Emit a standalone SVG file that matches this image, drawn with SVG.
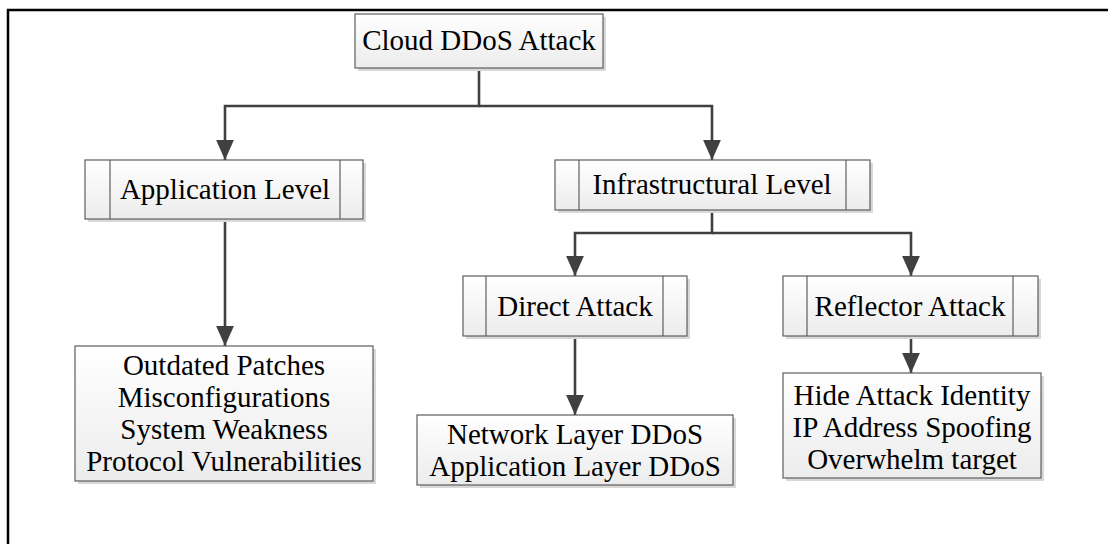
<svg xmlns="http://www.w3.org/2000/svg" width="1108" height="544" viewBox="0 0 1108 544">
<style>
.box{fill:url(#g);stroke:#5e5e5e;stroke-width:1.2}
.sh{fill:#d8d8d8}
.bar{stroke:#5e5e5e;stroke-width:1.2}
.t{font-family:"Liberation Serif","Times New Roman",serif;font-size:29px;fill:#000;text-anchor:middle}
.c{fill:none;stroke:#404040;stroke-width:2.6}
</style>
<defs>
<linearGradient id="g" x1="0" y1="0" x2="0" y2="1">
<stop offset="0" stop-color="#ffffff"/>
<stop offset="1" stop-color="#ececec"/>
</linearGradient>
<marker id="ar" markerUnits="userSpaceOnUse" markerWidth="18" markerHeight="20" refX="8" refY="18" orient="0" viewBox="0 0 16 18">
<path d="M0,0 L16,0 L8,18 Z" fill="#404040"/>
</marker>
</defs>
<rect width="1108" height="544" fill="#fff"/>
<path d="M8,544 V10 H1108" fill="none" stroke="#000" stroke-width="2.5"/>

<g id="connectors">
<path class="c" d="M479,68 V106 H225 V160" marker-end="url(#ar)"/>
<path class="c" d="M479,106 H712 V160" marker-end="url(#ar)"/>
<path class="c" d="M225,219 V346" marker-end="url(#ar)"/>
<path class="c" d="M712,210 V233 H575 V276" marker-end="url(#ar)"/>
<path class="c" d="M712,233 H911 V276" marker-end="url(#ar)"/>
<path class="c" d="M575,336 V415" marker-end="url(#ar)"/>
<path class="c" d="M911,336 V373" marker-end="url(#ar)"/>
</g>

<g id="cloud">
<rect class="sh" x="358" y="17" width="248" height="54"/>
<rect class="box" x="355" y="14" width="248" height="54"/>
<text class="t" x="479" y="50">Cloud DDoS Attack</text>
</g>

<g id="app">
<rect class="sh" x="88" y="163" width="278" height="59"/>
<rect class="box" x="85" y="160" width="278" height="59"/>
<line class="bar" x1="110" y1="160" x2="110" y2="219"/>
<line class="bar" x1="340" y1="160" x2="340" y2="219"/>
<text class="t" x="225" y="199">Application Level</text>
</g>

<g id="infra">
<rect class="sh" x="558" y="163" width="315" height="50"/>
<rect class="box" x="555" y="160" width="315" height="50"/>
<line class="bar" x1="579" y1="160" x2="579" y2="210"/>
<line class="bar" x1="846" y1="160" x2="846" y2="210"/>
<text class="t" x="712" y="194">Infrastructural Level</text>
</g>

<g id="direct">
<rect class="sh" x="466" y="279" width="224" height="60"/>
<rect class="box" x="463" y="276" width="224" height="60"/>
<line class="bar" x1="486" y1="276" x2="486" y2="336"/>
<line class="bar" x1="663" y1="276" x2="663" y2="336"/>
<text class="t" x="575" y="316">Direct Attack</text>
</g>

<g id="reflector">
<rect class="sh" x="786" y="279" width="255" height="60"/>
<rect class="box" x="783" y="276" width="255" height="60"/>
<line class="bar" x1="807" y1="276" x2="807" y2="336"/>
<line class="bar" x1="1013" y1="276" x2="1013" y2="336"/>
<text class="t" x="910" y="316">Reflector Attack</text>
</g>

<g id="app-items">
<rect class="sh" x="78" y="349" width="298" height="135"/>
<rect class="box" x="75" y="346" width="298" height="135"/>
<text class="t" x="224" y="375">Outdated Patches</text>
<text class="t" x="224" y="407">Misconfigurations</text>
<text class="t" x="224" y="439">System Weakness</text>
<text class="t" x="224" y="471">Protocol Vulnerabilities</text>
</g>

<g id="direct-items">
<rect class="sh" x="420" y="418" width="316" height="70"/>
<rect class="box" x="417" y="415" width="316" height="70"/>
<text class="t" x="575" y="444">Network Layer DDoS</text>
<text class="t" x="575" y="476">Application Layer DDoS</text>
</g>

<g id="reflector-items">
<rect class="sh" x="786" y="376" width="258" height="105"/>
<rect class="box" x="783" y="373" width="258" height="105"/>
<text class="t" x="912" y="405">Hide Attack Identity</text>
<text class="t" x="912" y="437">IP Address Spoofing</text>
<text class="t" x="912" y="469">Overwhelm target</text>
</g>
</svg>
